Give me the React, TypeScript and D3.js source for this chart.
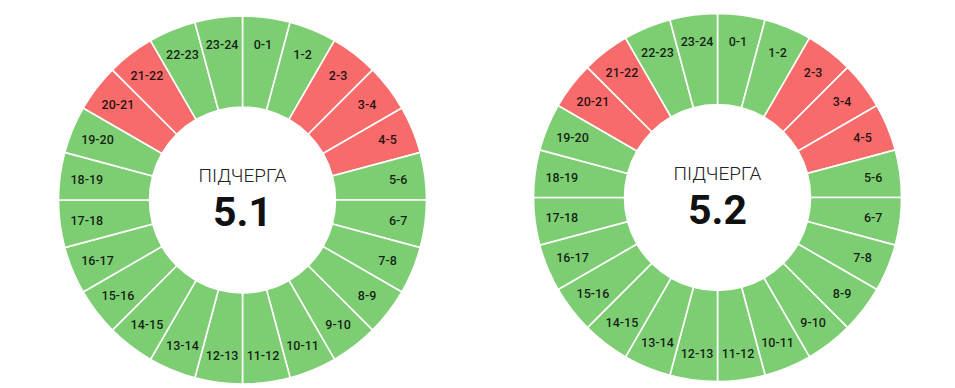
import React from 'react';
import * as d3 from 'd3';

// hour slots, clockwise from the top
const hours = [
  '0-1', '1-2', '2-3', '3-4', '4-5', '5-6', '6-7', '7-8', '8-9', '9-10', '10-11', '11-12',
  '12-13', '13-14', '14-15', '15-16', '16-17', '17-18', '18-19', '19-20', '20-21', '21-22', '22-23', '23-24',
];

// 1 = outage (red), 0 = power on (green)
const queue51 = [0, 0, 1, 1, 1, 0, 0, 0, 0, 0, 0, 0, 0, 0, 0, 0, 0, 0, 0, 0, 1, 1, 0, 0];
const queue52 = [0, 0, 1, 1, 1, 0, 0, 0, 0, 0, 0, 0, 0, 0, 0, 0, 0, 0, 0, 0, 1, 1, 0, 0];

const queues = [
  { name: '5.1', states: queue51, cx: 242.5, cy: 200 },
  { name: '5.2', states: queue52, cx: 717.5, cy: 197.5 },
];

const width = 955;
const height = 388;
const outerR = 184;
const innerR = 93;
const labelR = 157;

const GREEN = '#7dcd73';
const RED = '#f76b6b';

function Ring(props: { name: string; states: number[]; cx: number; cy: number }) {
  const pie = d3.pie<number>().value(() => 1).sort(null);
  const arcs = pie(props.states);
  const arc = d3.arc<d3.PieArcDatum<number>>().innerRadius(innerR).outerRadius(outerR);

  return (
    <g transform={'translate(' + props.cx + ',' + props.cy + ')'}>
      {arcs.map((a, i) => (
        <path key={'s' + i} d={arc(a) || ''} fill={a.data ? RED : GREEN} stroke="#fff" strokeWidth={1.6} />
      ))}
      {arcs.map((a, i) => {
        const mid = (a.startAngle + a.endAngle) / 2;
        return (
          <text
            key={'l' + i}
            x={labelR * Math.sin(mid)}
            y={-labelR * Math.cos(mid)}
            textAnchor="middle"
            dominantBaseline="central"
            fontFamily="Roboto"
            fontWeight={500}
            fontSize={12.5}
            fill="rgba(0,0,0,0.85)"
          >
            {hours[i]}
          </text>
        );
      })}
      <text y={-18} textAnchor="middle" fontFamily="Roboto" fontWeight={300} fontSize={19} fill="#222">
        ПІДЧЕРГА
      </text>
      <text y={26} textAnchor="middle" fontFamily="Roboto" fontWeight={700} fontSize={41} fill="#111">
        {props.name}
      </text>
    </g>
  );
}

export default function App() {
  return (
    <>
      <style>{'body{margin:0}'}</style>
      <svg width={width} height={height} style={{ display: 'block', background: '#fff' }}>
        {queues.map((q) => (
          <Ring key={q.name} {...q} />
        ))}
      </svg>
    </>
  );
}
